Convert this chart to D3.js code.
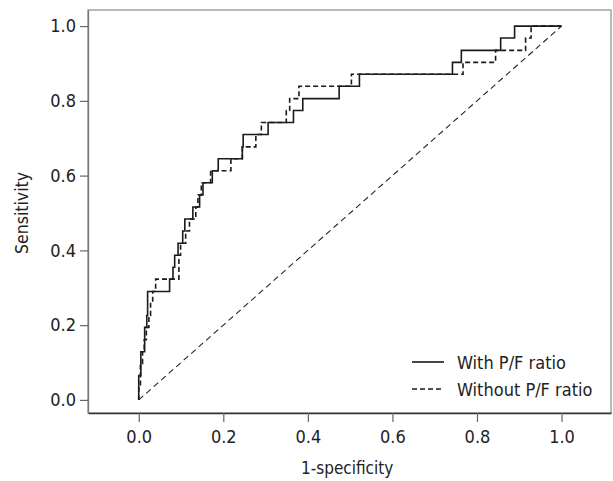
<!DOCTYPE html>
<html>
<head>
<meta charset="utf-8">
<script src="https://cdn.jsdelivr.net/npm/d3@7"></script>
<style>
  body { margin: 0; background: #fff; }
  text { font-family: "DejaVu Sans Condensed", "DejaVu Sans", sans-serif; font-stretch: condensed; fill: #222; }
</style>
</head>
<body>
<div id="roc"></div>
<script>
// ROC step points: sensitivity level and the 1-specificity where that level ends
const withFpr  = [0, 0.005, 0.014, 0.019, 0.021, 0.073, 0.081, 0.085, 0.093, 0.104, 0.109, 0.128, 0.144, 0.152, 0.174, 0.188, 0.245, 0.247, 0.306, 0.366, 0.388, 0.474, 0.522, 0.742, 0.763, 0.856, 0.889, 1.0];
const withSens = [0, 0.065, 0.129, 0.194, 0.226, 0.290, 0.323, 0.355, 0.387, 0.419, 0.452, 0.484, 0.516, 0.548, 0.581, 0.613, 0.645, 0.677, 0.710, 0.742, 0.774, 0.806, 0.839, 0.871, 0.903, 0.935, 0.968, 1.0];

const withoutFpr  = [0, 0.004, 0.009, 0.013, 0.018, 0.024, 0.028, 0.033, 0.040, 0.095, 0.099, 0.111, 0.120, 0.135, 0.140, 0.148, 0.170, 0.218, 0.245, 0.277, 0.290, 0.349, 0.357, 0.379, 0.503, 0.767, 0.844, 0.915, 0.928, 1.0];
const withoutSens = [0, 0.032, 0.097, 0.129, 0.161, 0.194, 0.226, 0.258, 0.290, 0.323, 0.387, 0.419, 0.452, 0.484, 0.516, 0.548, 0.581, 0.613, 0.645, 0.677, 0.710, 0.742, 0.774, 0.806, 0.839, 0.871, 0.903, 0.935, 0.968, 1.0];

const tickValues = [0, 0.2, 0.4, 0.6, 0.8, 1.0];
const seriesNames = ["With P/F ratio", "Without P/F ratio"];

const margin = { top: 10, right: 2, bottom: 68, left: 88 };
const width = 613 - margin.left - margin.right;
const height = 481 - margin.top - margin.bottom;

const svg = d3.select("#roc")
    .append("svg")
    .attr("width", 613)
    .attr("height", 481)
    .append("g")
    .attr("transform", `translate(${margin.left},${margin.top})`);

const x = d3.scaleLinear().domain([-0.12, 1.117]).range([0, width]);
const y = d3.scaleLinear().domain([-0.035, 1.043]).range([height, 0]);

// frame
svg.append("rect")
    .attr("width", width)
    .attr("height", height)
    .attr("fill", "none")
    .attr("stroke", "#8a8a8a")
    .attr("stroke-width", 1.2);

// axes
const xAxis = svg.append("g")
    .attr("transform", `translate(0,${height})`)
    .call(d3.axisBottom(x).tickValues(tickValues).tickFormat(d3.format(".1f")).tickSize(9).tickPadding(8).tickSizeOuter(0));
const yAxis = svg.append("g")
    .call(d3.axisLeft(y).tickValues(tickValues).tickFormat(d3.format(".1f")).tickSize(8).tickPadding(4).tickSizeOuter(0));

[xAxis, yAxis].forEach(a => {
    a.select(".domain").attr("stroke", "#333").attr("stroke-width", 1.3);
    a.selectAll(".tick line").attr("stroke", "#666").attr("stroke-width", 1.2);
    a.selectAll(".tick text")
        .style("font-family", "'DejaVu Sans Condensed', 'DejaVu Sans', sans-serif")
        .style("font-stretch", "condensed")
        .style("font-size", "18px")
        .attr("fill", "#222");
});
yAxis.select(".domain").attr("stroke", "#777");

// reference diagonal
svg.append("line")
    .attr("x1", x(0)).attr("y1", y(0))
    .attr("x2", x(1)).attr("y2", y(1))
    .attr("stroke", "#222")
    .attr("stroke-width", 1.1)
    .attr("stroke-dasharray", "6,4");

const line = d3.line()
    .x(d => x(d[0]))
    .y(d => y(d[1]))
    .curve(d3.curveStepBefore);

svg.append("path")
    .datum(d3.zip(withoutFpr, withoutSens))
    .attr("d", line)
    .attr("fill", "none")
    .attr("stroke", "#1a1a1a")
    .attr("stroke-width", 1.6)
    .attr("stroke-dasharray", "5,3");

svg.append("path")
    .datum(d3.zip(withFpr, withSens))
    .attr("d", line)
    .attr("fill", "none")
    .attr("stroke", "#1a1a1a")
    .attr("stroke-width", 1.6);

// legend
const legend = svg.append("g").attr("transform", `translate(${412 - margin.left},${362 - margin.top})`);
seriesNames.forEach((name, i) => {
    const g = legend.append("g").attr("transform", `translate(0,${i * 27})`);
    g.append("line")
        .attr("x1", 0).attr("x2", 32)
        .attr("stroke", "#1a1a1a")
        .attr("stroke-width", 1.6)
        .attr("stroke-dasharray", i === 1 ? "5,3" : null);
    g.append("text")
        .attr("x", 45)
        .attr("y", 7)
        .style("font-size", "18px")
        .text(name);
});

// axis titles
svg.append("text")
    .attr("x", x(0.5) - 3)
    .attr("y", height + 61)
    .attr("text-anchor", "middle")
    .style("font-size", "17px")
    .text("1-specificity");

svg.append("text")
    .attr("transform", "rotate(-90)")
    .attr("x", -y(0.5))
    .attr("y", -60)
    .attr("text-anchor", "middle")
    .style("font-size", "17.5px")
    .text("Sensitivity");
</script>
</body>
</html>
